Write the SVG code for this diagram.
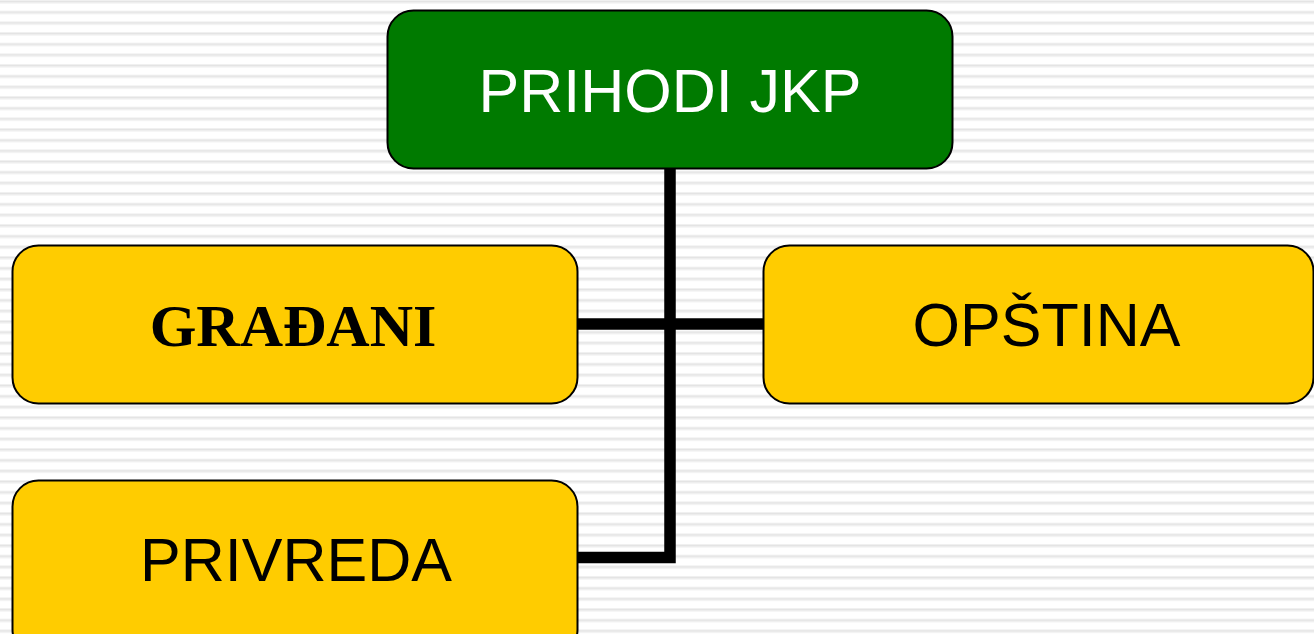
<svg xmlns="http://www.w3.org/2000/svg" width="1314" height="634" viewBox="0 0 1314 634">
<defs>
<pattern id="stripes" x="0" y="0" width="20" height="10.667" patternUnits="userSpaceOnUse">
<rect x="0" y="0" width="20" height="10.667" fill="#ffffff"/>
<rect x="0" y="0" width="20" height="1" fill="#f0f0f0"/>
<rect x="0" y="1" width="20" height="1.6" fill="#e4e4e4"/>
<rect x="0" y="2.6" width="20" height="1" fill="#f1f1f1"/>
</pattern>
<style>
.box{stroke:#000;stroke-width:2}
.yellow{fill:#ffcc00}
.green{fill:#007a00}
.sans{font-family:"Liberation Sans",Arial,sans-serif;font-size:61px;text-anchor:middle}
.serif{font-family:"Liberation Serif","Times New Roman",serif;font-size:60px;font-weight:bold;text-anchor:middle}
.conn{fill:none;stroke:#000;stroke-width:11.5}
</style>
</defs>
<rect x="0" y="0" width="1314" height="634" fill="url(#stripes)"/>
<g id="connectors">
<path class="conn" d="M670 168 V557.5 H577"/>
<path class="conn" d="M577 324 H763"/>
</g>
<g id="prihodi">
<rect class="box green" x="387.5" y="10.5" width="565" height="158" rx="26" ry="26"/>
<text class="sans" x="670" y="112" fill="#ffffff">PRIHODI JKP</text>
</g>
<g id="gradjani">
<rect class="box yellow" x="12.5" y="245.5" width="565" height="158" rx="26" ry="26"/>
<text class="serif" x="293" y="346" fill="#000">GRAĐANI</text>
</g>
<g id="opstina">
<rect class="box yellow" x="763.5" y="245.5" width="550" height="158" rx="26" ry="26"/>
<text class="sans" x="1046.5" y="346" fill="#000">OPŠTINA</text>
</g>
<g id="privreda">
<rect class="box yellow" x="12.5" y="480.5" width="565" height="175" rx="26" ry="26"/>
<text class="sans" x="296" y="581" fill="#000">PRIVREDA</text>
</g>
</svg>
